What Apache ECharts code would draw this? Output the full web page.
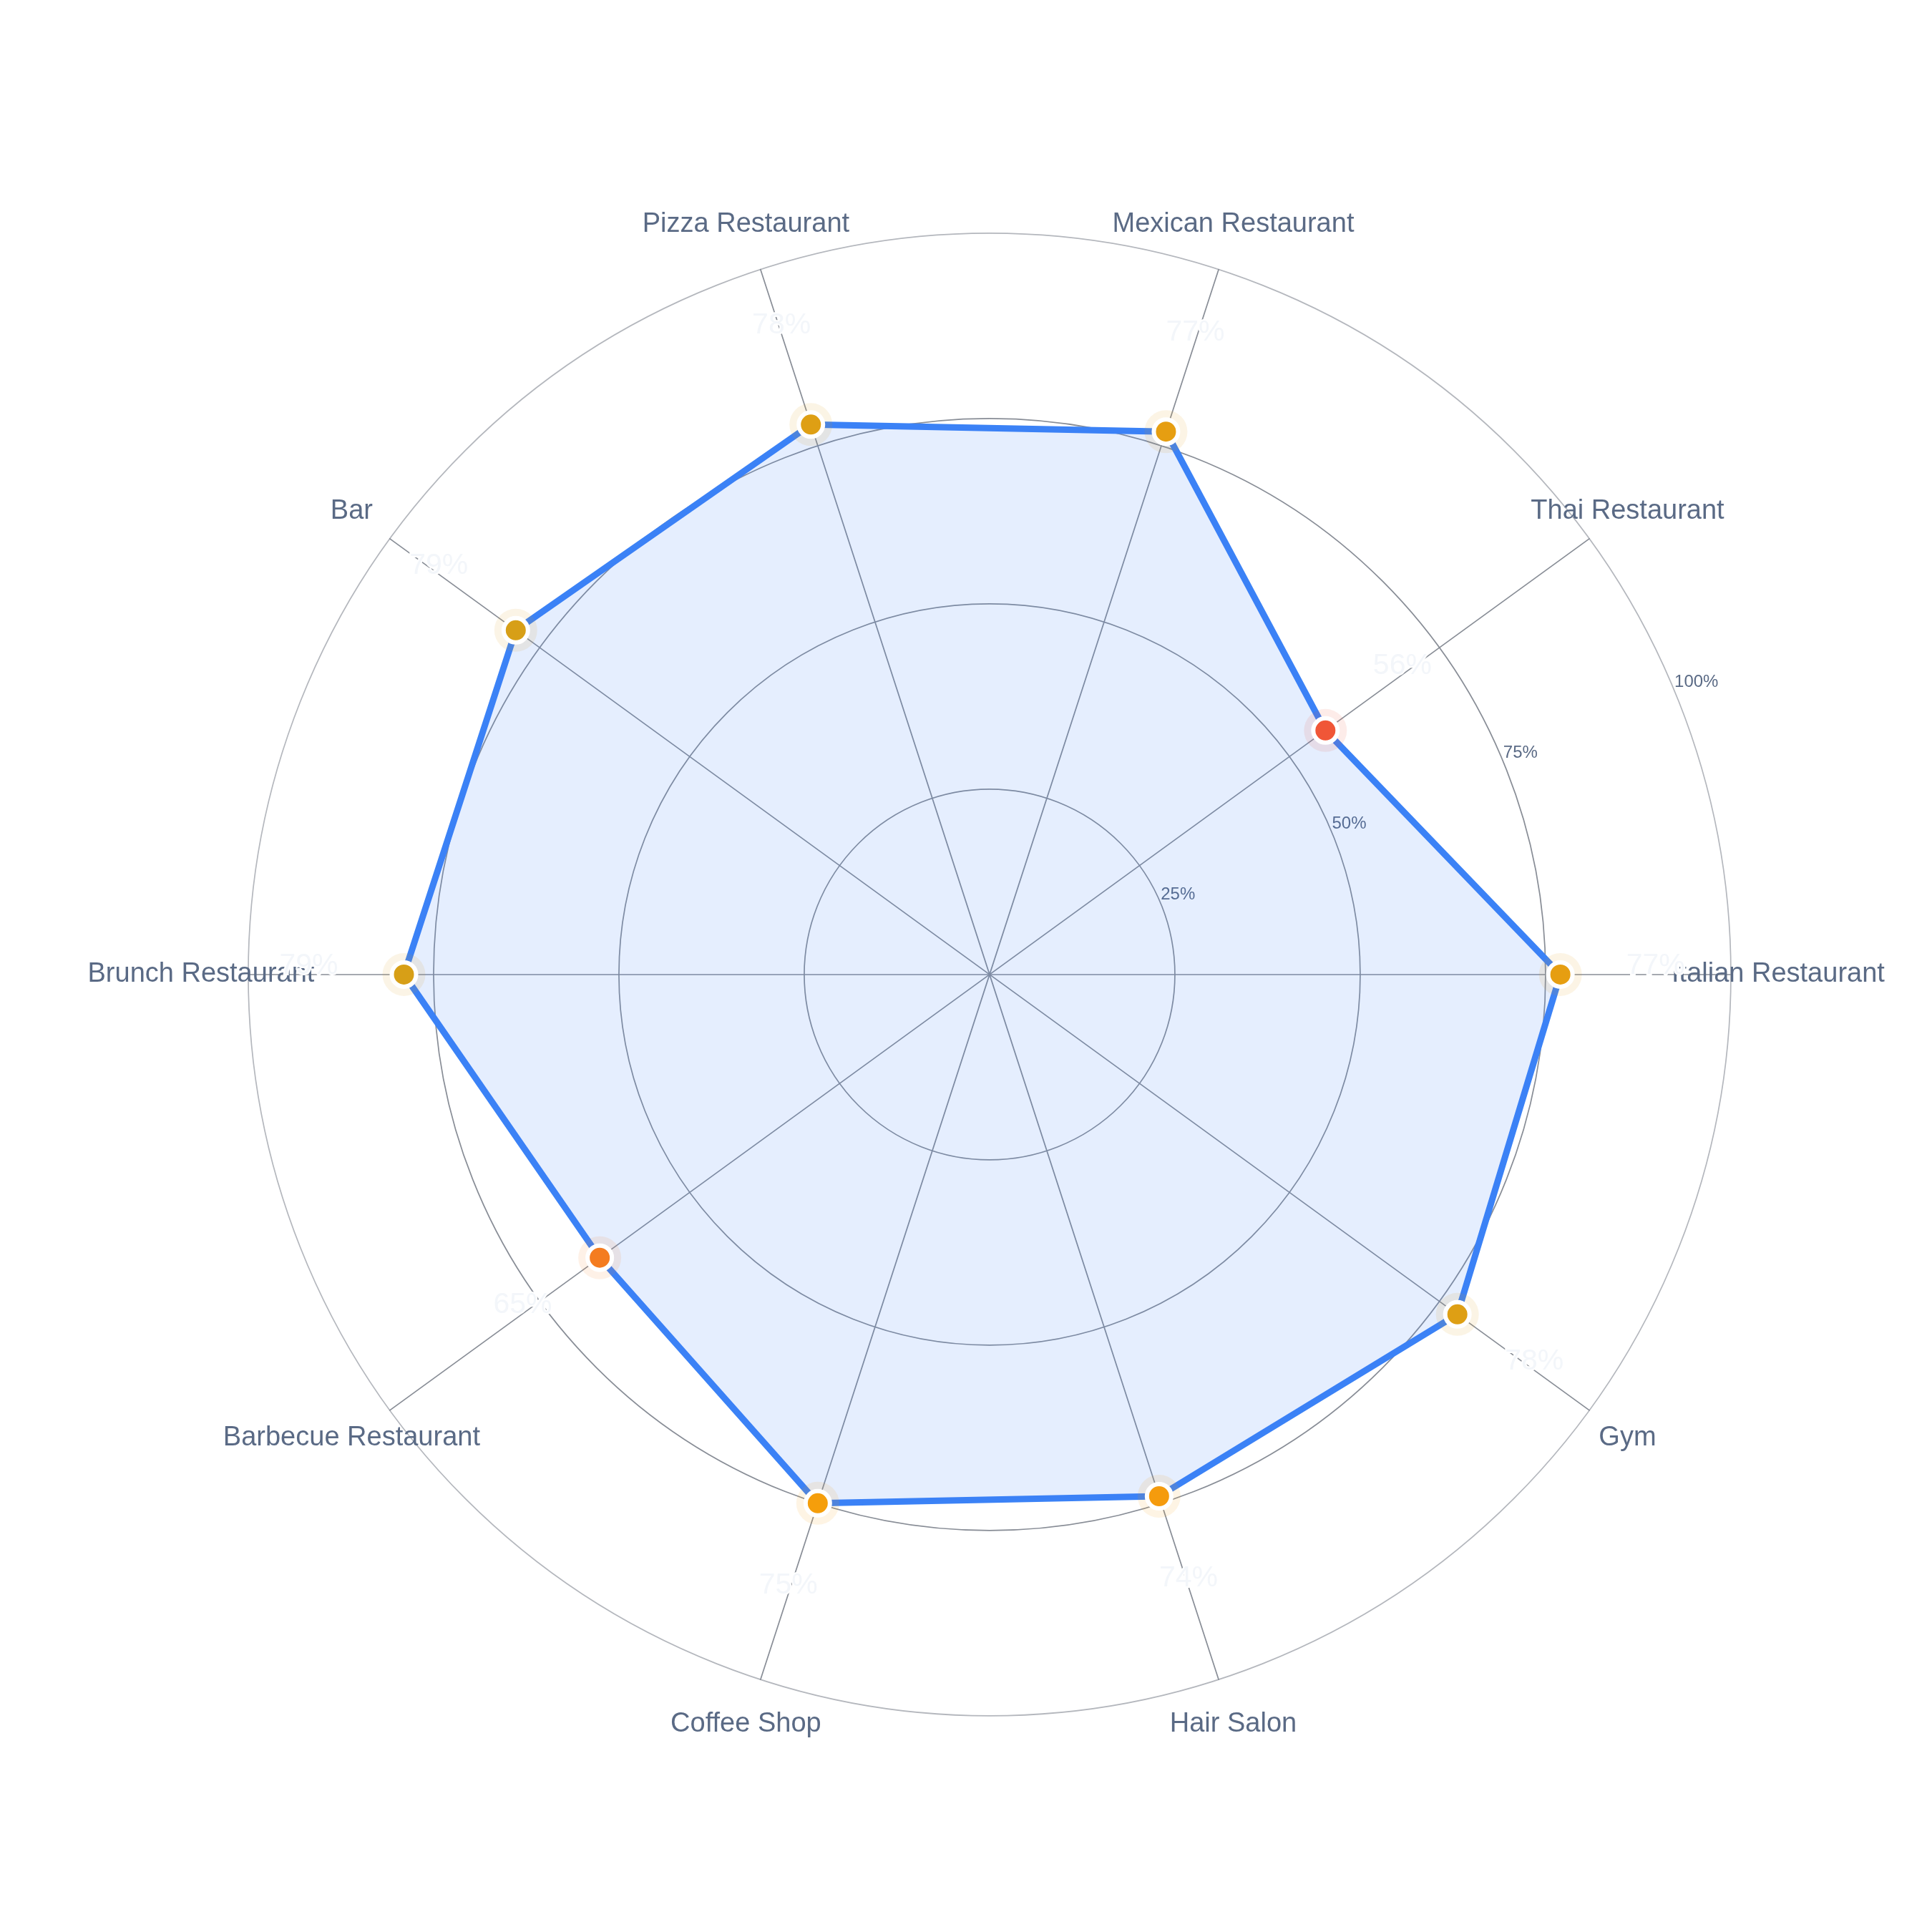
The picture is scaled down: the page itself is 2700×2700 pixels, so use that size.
<!DOCTYPE html>
<html><head><meta charset="utf-8">
<script src="https://cdn.jsdelivr.net/npm/echarts@6/dist/echarts.min.js"></script>
<style>html,body{margin:0;padding:0;background:#fff}#c{width:2700px;height:2700px}</style>
</head><body><div id="c"></div>
<script>
const categories = ['Italian Restaurant','Thai Restaurant','Mexican Restaurant','Pizza Restaurant','Bar','Brunch Restaurant','Barbecue Restaurant','Coffee Shop','Hair Salon','Gym'];
const values = [77, 56, 77, 78, 79, 79, 65, 75, 74, 78];
const radialTicks = [25, 50, 75, 100];

const CX = '51.22%', CY = '50.44%', R = 1036;
const LABEL_GAP = 133, LABEL_LIFT = 12;
const step = 360 / categories.length;

const markerData = values.map((v, i) => {
  const a = i * step * Math.PI / 180;
  return {
    value: [v, categories[i]],
    label: { offset: [LABEL_GAP * Math.cos(a), -LABEL_GAP * Math.sin(a) - LABEL_LIFT] }
  };
});
const haloData = values.map((v, i) => [v, categories[i]]);

const chart = echarts.init(document.getElementById('c'), null, { renderer: 'canvas' });
chart.setOption({
  backgroundColor: '#ffffff',
  animation: false,
  textStyle: { fontFamily: '"Liberation Sans", Arial, Helvetica, sans-serif' },
  radar: {
    center: [CX, CY], radius: R, startAngle: 0, shape: 'circle', splitNumber: 4,
    indicator: categories.map(n => ({ name: n, min: 0, max: 100 })),
    axisNameGap: 66,
    axisName: { color: '#5a6a85', fontSize: 38, align: 'center', verticalAlign: 'middle' },
    axisLine: { lineStyle: { color: '#888d96', width: 1.7 } },
    axisTick: { show: false },
    axisLabel: { show: false },
    splitLine: { lineStyle: { color: ['#888d96', '#888d96', '#888d96', '#888d96', '#b4b7bd'], width: 1.7 } },
    splitArea: { show: false }
  },
  polar: [
    { center: [CX, CY], radius: R },
    { center: [CX, CY], radius: R }
  ],
  angleAxis: [
    { polarIndex: 0, type: 'category', data: categories, startAngle: 0, clockwise: false, boundaryGap: false,
      axisLine: { show: false }, axisTick: { show: false }, axisLabel: { show: false }, splitLine: { show: false } },
    { polarIndex: 1, type: 'value', min: 0, max: 360, startAngle: 22.5, show: false }
  ],
  radiusAxis: [
    { polarIndex: 0, min: 0, max: 100, show: false },
    { polarIndex: 1, min: 0, max: 100, interval: 25,
      axisLine: { show: false }, axisTick: { show: false }, splitLine: { show: false },
      axisLabel: {
        showMinLabel: false, margin: 0, color: '#5a6a85', fontSize: 24,
        align: 'left', verticalAlign: 'bottom',
        formatter: v => (radialTicks.indexOf(v) >= 0 ? v + '%' : '')
      } }
  ],
  visualMap: {
    show: false, type: 'continuous', min: 55, max: 80, dimension: 0, seriesIndex: [1, 2],
    inRange: { color: ['#f0523a', '#f2672c', '#f47c20', '#f58d15', '#f59e0b', '#cf9f1a'] }
  },
  series: [
    { type: 'radar', symbol: 'none', z: 2,
      lineStyle: { color: '#3b82f6', width: 9 },
      areaStyle: { color: '#3b82f6', opacity: 0.135 },
      data: [{ value: values, name: 'Score' }] },
    { type: 'scatter', coordinateSystem: 'polar', polarIndex: 0, symbolSize: 60, silent: true, z: 3,
      itemStyle: { opacity: 0.11 }, data: haloData },
    { type: 'scatter', coordinateSystem: 'polar', polarIndex: 0, symbolSize: 34, z: 4,
      itemStyle: { borderColor: '#ffffff', borderWidth: 6, opacity: 1 },
      label: { show: true, position: 'inside', formatter: p => p.value[0] + '%',
        color: '#f3f6fa', fontSize: 41, textBorderColor: '#ffffff', textBorderWidth: 4 },
      data: markerData }
  ]
});
</script></body></html>
